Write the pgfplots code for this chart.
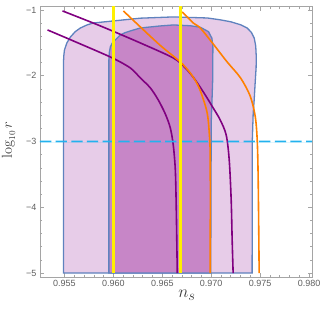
\documentclass[border=0pt]{standalone}
\usepackage[no-math]{fontspec}
\setmainfont{Liberation Sans}
\usepackage{pgfplots}
\pgfplotsset{compat=1.18}
\definecolor{lightfill}{RGB}{231,204,232}
\definecolor{darkfill}{RGB}{199,134,199}
\definecolor{edgeblue}{RGB}{95,130,190}
\definecolor{mpurple}{RGB}{128,0,128}
\definecolor{morange}{RGB}{255,128,0}
\definecolor{myellow}{RGB}{255,240,0}
\definecolor{dashblue}{RGB}{35,178,238}
\definecolor{framegray}{RGB}{165,165,165}
\definecolor{labelgray}{RGB}{95,95,95}
\begin{document}
\begin{tikzpicture}
\useasboundingbox (-40pt,-32pt) rectangle (287pt,277pt);
\begin{axis}[
  at={(0pt,0pt)}, anchor=south west,
  scale only axis, width=272pt, height=271pt,
  xmin=0.9525, xmax=0.9803, ymin=-5.06, ymax=-0.94,
  xtick={0.955,0.960,0.965,0.970,0.975,0.980},
  xticklabels={0.955,0.960,0.965,0.970,0.975,0.980},
  ytick={-5,-4,-3,-2,-1},
  yticklabels={−5,−4,−3,−2,−1},
  minor x tick num=4, minor y tick num=4,
  tick align=inside,
  major tick length=4.5pt, minor tick length=2.5pt,
  axis line style={framegray, line width=0.8pt},
  tick style={framegray, line width=0.6pt},
  tick label style={font=\fontsize{9}{10}\selectfont, text=labelgray},
  /pgf/number format/assume math mode=true,
  xlabel={$n_s$},
  ylabel={$\log_{10} r$},
  xlabel style={at={(axis description cs:0.54,-0.068)}, anchor=center, font=\fontsize{19}{20}\selectfont, text=labelgray!60!black},
  ylabel style={at={(axis description cs:-0.116,0.505)}, anchor=center, font=\fontsize{13.5}{14}\selectfont, text=labelgray!60!black},
  clip=true,
]
% outer (light) region
\addplot[fill=lightfill, draw=edgeblue, line width=1.3pt] coordinates {
(0.95490,-5) (0.95490,-1.80) (0.95493,-1.70) (0.95500,-1.608) (0.95525,-1.50)
(0.95561,-1.411) (0.95610,-1.33) (0.95663,-1.274) (0.95730,-1.228) (0.95796,-1.198)
(0.96000,-1.167) (0.96276,-1.125) (0.96612,-1.106) (0.96959,-1.122) (0.97092,-1.150)
(0.97200,-1.180) (0.97300,-1.225) (0.97367,-1.274) (0.97410,-1.34) (0.97440,-1.43)
(0.97455,-1.55) (0.97460,-1.70) (0.97459,-1.87) (0.97449,-2.11) (0.97439,-2.37)
(0.97429,-2.57) (0.97420,-2.98) (0.97418,-5)
} -- cycle;
% inner (dark) region
\addplot[fill=darkfill, draw=edgeblue, line width=1.3pt] coordinates {
(0.95954,-5) (0.95954,-1.76) (0.95958,-1.65) (0.95969,-1.563) (0.95990,-1.50)
(0.96020,-1.456) (0.96071,-1.380) (0.96120,-1.345) (0.96173,-1.319) (0.96276,-1.274)
(0.96480,-1.243) (0.96612,-1.228) (0.96786,-1.240) (0.96888,-1.263) (0.96972,-1.330)
(0.97007,-1.430) (0.97017,-1.558) (0.97015,-2.065) (0.97000,-2.72) (0.96995,-5)
} -- cycle;
% purple lines
\addplot[color=mpurple, line width=1.6pt, smooth, tension=0.5] coordinates {
(0.95480,-1.015) (0.95867,-1.243) (0.96276,-1.502) (0.96612,-1.730) (0.96735,-1.882)
(0.96837,-2.065) (0.96939,-2.293) (0.97020,-2.490) (0.97092,-2.673) (0.97153,-2.901)
(0.97184,-3.281) (0.97204,-3.890) (0.97214,-4.498) (0.97224,-5)
};
\addplot[color=mpurple, line width=1.6pt, smooth, tension=0.5] coordinates {
(0.95327,-1.304) (0.95663,-1.517) (0.95990,-1.730) (0.96173,-1.882) (0.96276,-2.034)
(0.96378,-2.186) (0.96459,-2.369) (0.96531,-2.582) (0.96582,-2.795) (0.96612,-3.053)
(0.96633,-3.433) (0.96643,-4.042) (0.96653,-5)
};
% orange lines
\addplot[color=morange, line width=1.6pt, smooth, tension=0.5] coordinates {
(0.96102,-1.015) (0.96276,-1.259) (0.96480,-1.540) (0.96684,-1.791) (0.96786,-1.958)
(0.96857,-2.125) (0.96908,-2.308) (0.96959,-2.567) (0.96980,-2.871) (0.96990,-3.281)
(0.96990,-5)
};
\addplot[color=morange, line width=1.6pt, smooth, tension=0.5] coordinates {
(0.96704,-1.030) (0.96816,-1.198) (0.96888,-1.274) (0.97020,-1.517) (0.97163,-1.791)
(0.97300,-2.034) (0.97398,-2.308) (0.97449,-2.612) (0.97470,-2.977) (0.97480,-3.586)
(0.97490,-5)
};
% dashed line at log10 r = -3, as filled dash rectangles
\addplot[fill=dashblue, draw=none] coordinates {
(0.95250,-3.012) (0.95250,-2.988) (0.95365,-2.988) (0.95365,-3.012)
(0.95410,-3.012) (0.95410,-2.988) (0.95525,-2.988) (0.95525,-3.012)
(0.95570,-3.012) (0.95570,-2.988) (0.95685,-2.988) (0.95685,-3.012)
(0.95730,-3.012) (0.95730,-2.988) (0.95845,-2.988) (0.95845,-3.012)
(0.95890,-3.012) (0.95890,-2.988) (0.96005,-2.988) (0.96005,-3.012)
(0.96050,-3.012) (0.96050,-2.988) (0.96165,-2.988) (0.96165,-3.012)
(0.96210,-3.012) (0.96210,-2.988) (0.96325,-2.988) (0.96325,-3.012)
(0.96370,-3.012) (0.96370,-2.988) (0.96485,-2.988) (0.96485,-3.012)
(0.96530,-3.012) (0.96530,-2.988) (0.96645,-2.988) (0.96645,-3.012)
(0.96690,-3.012) (0.96690,-2.988) (0.96805,-2.988) (0.96805,-3.012)
(0.96850,-3.012) (0.96850,-2.988) (0.96965,-2.988) (0.96965,-3.012)
(0.97010,-3.012) (0.97010,-2.988) (0.97125,-2.988) (0.97125,-3.012)
(0.97170,-3.012) (0.97170,-2.988) (0.97285,-2.988) (0.97285,-3.012)
(0.97330,-3.012) (0.97330,-2.988) (0.97445,-2.988) (0.97445,-3.012)
(0.97490,-3.012) (0.97490,-2.988) (0.97605,-2.988) (0.97605,-3.012)
(0.97650,-3.012) (0.97650,-2.988) (0.97765,-2.988) (0.97765,-3.012)
(0.97810,-3.012) (0.97810,-2.988) (0.97925,-2.988) (0.97925,-3.012)
(0.97970,-3.012) (0.97970,-2.988) (0.98030,-2.988) (0.98030,-3.012)
} -- cycle;
% yellow lines
\addplot[color=myellow, line width=2.6pt] coordinates {(0.9600,-5) (0.9600,-0.94)};
\addplot[color=myellow, line width=2.6pt] coordinates {(0.96684,-5) (0.96684,-0.94)};
\end{axis}
\end{tikzpicture}
\end{document}
